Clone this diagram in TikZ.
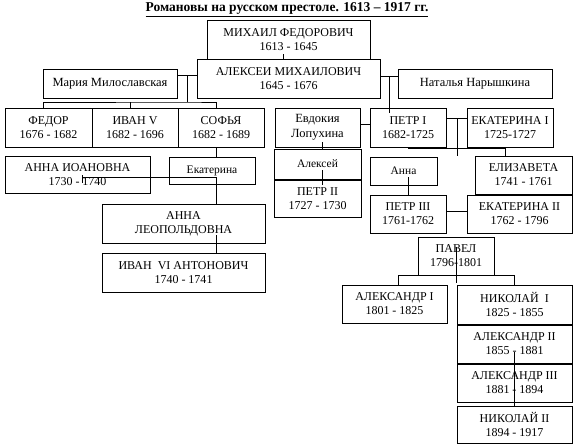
\documentclass[tikz,border=0pt]{standalone}
\usepackage{fontspec}
\setmainfont{Liberation Serif}
\tikzset{
  box/.style={draw, line width=1pt, rectangle, inner sep=0pt, align=center, font=\fontsize{12}{14}\selectfont},
  midbox/.style={box, font=\fontsize{12.5}{15}\selectfont},
  smallbox/.style={box, font=\fontsize{11.5}{13}\selectfont},
  link/.style={line width=1pt},
}
\begin{document}
\begin{tikzpicture}[x=1pt,y=-1pt]
\fill[white] (0,0) rectangle (575,447);
\path[use as bounding box] (0,0) rectangle (575,447);

\node[font=\fontsize{13.5}{15}\selectfont\bfseries] (title) at (287,9.5) {\underline{Романовы на русском престоле. 1613 – 1917 гг.}};

% boxes
\node[box, minimum width=163pt, minimum height=39pt] (mikhail) at (288.5,39.5) {МИХАИЛ ФЕДОРОВИЧ\\1613 - 1645};
\node[box, minimum width=183pt, minimum height=39pt] (alexei) at (288.5,78.5) {АЛЕКСЕИ МИХАИЛОВИЧ\\1645 - 1676};
\node[midbox, minimum width=134pt, minimum height=29pt] (maria) at (110,83.5) {Мария Милославская};
\node[midbox, minimum width=154pt, minimum height=29pt] (natalia) at (475,83.5) {Наталья Нарышкина};
\node[box, minimum width=87pt, minimum height=39pt] (fedor) at (48.5,127.5) {ФЕДОР\\1676 - 1682};
\node[box, minimum width=86pt, minimum height=39pt] (ivan5) at (135,127.5) {ИВАН V\\1682 - 1696};
\node[box, minimum width=86pt, minimum height=39pt] (sofia) at (221,127.5) {СОФЬЯ\\1682 - 1689};
\node[box, minimum width=145pt, minimum height=37pt] (annai) at (77.5,174.5) {АННА ИОАНОВНА\\1730 - 1740};
\node[smallbox, minimum width=86pt, minimum height=27pt] (ekat) at (212,170.5) {Екатерина};
\node[box, minimum width=163pt, minimum height=39pt] (annal) at (183.5,223.5) {АННА\\ЛЕОПОЛЬДОВНА};
\node[box, minimum width=163pt, minimum height=39pt] (ivan6) at (183.5,272.5) {ИВАН~ VI АНТОНОВИЧ\\1740 - 1741};
\node[midbox, minimum width=85pt, minimum height=39pt] (evdokia) at (317.5,127.5) {Евдокия\\Лопухина};
\node[box, minimum width=76pt, minimum height=39pt] (petr1) at (408,127.5) {ПЕТР I\\1682-1725};
\node[box, minimum width=86pt, minimum height=39pt] (ekat1) at (510,127.5) {ЕКАТЕРИНА I\\1725-1727};
\node[smallbox, minimum width=87pt, minimum height=30pt] (aleksei) at (317.5,164) {Алексей};
\node[box, minimum width=87pt, minimum height=37pt] (petr2) at (317.5,198.5) {ПЕТР II\\1727 - 1730};
\node[smallbox, minimum width=67pt, minimum height=28pt] (anna) at (403.5,171) {Анна};
\node[box, minimum width=97pt, minimum height=38pt] (eliz) at (523.5,175) {ЕЛИЗАВЕТА\\1741 - 1761};
\node[box, minimum width=76pt, minimum height=38pt] (petr3) at (408,214) {ПЕТР III\\1761-1762};
\node[box, minimum width=105pt, minimum height=38pt] (ekat2) at (519.5,214) {ЕКАТЕРИНА II\\1762 - 1796};
\node[box, minimum width=76pt, minimum height=38pt] (pavel) at (456,256) {ПАВЕЛ\\1796-1801};
\node[box, minimum width=105pt, minimum height=38pt] (alex1) at (394.5,304) {АЛЕКСАНДР I\\1801 - 1825};
\node[box, minimum width=115pt, minimum height=39pt] (nik1) at (514.5,304.5) {НИКОЛАЙ~ I\\1825 - 1855};
\node[box, minimum width=115pt, minimum height=38pt] (alex2) at (514.5,344) {АЛЕКСАНДР II\\1855 - 1881};
\node[box, minimum width=115pt, minimum height=38pt] (alex3) at (514.5,383) {АЛЕКСАНДР III\\1881 - 1894};
\node[box, minimum width=115pt, minimum height=37pt] (nik2) at (514.5,424.5) {НИКОЛАЙ II\\1894 - 1917};

% junction coordinates
\coordinate (jm) at (187,75);
\coordinate (jc) at (187,102);
\coordinate (jn) at (389,76);
\coordinate (jn2) at (389,113);
\coordinate (ja) at (216,177);
\coordinate (jl) at (82,177);
\coordinate (jv) at (216,235);
\coordinate (je) at (365,124);
\coordinate (jd) at (322,142);
\coordinate (jk) at (322,170);
\coordinate (jp) at (457,118);
\coordinate (jq) at (408,148);
\coordinate (js) at (456,211);
\coordinate (jt) at (456,275);

% connectors
\draw[link] ([xshift=-5.5pt]mikhail.south) -- ++(0,-6);
\draw[link] (maria.east |- jm) -- (alexei.west |- jm);
\draw[link] (jm) -- (jc);
\draw[link] ([xshift=-5.5pt]fedor.north) |- (jc) -| ([xshift=-5pt]sofia.north);
\draw[link] ([xshift=-5pt]ivan5.north) -- ++(0,-6);
\draw[link] (alexei.east |- jn) -- (natalia.west |- jn);
\draw[link] (jn) -- (jn2);
\draw[link] ([xshift=-5pt]sofia.south) -- ([xshift=4pt]ekat.north);
\draw[link] ([yshift=2pt]jl) -- ([yshift=-6pt]jl);
\draw[link] (jl) -- (ja) -- (ja |- annal.north);
\draw[link] (jv) -- (jv |- ivan6.north);
\draw[link] (evdokia.east |- je) -- (petr1.west |- je);
\draw[link] (jd) -- (jd |- aleksei.north);
\draw[link] (jk) -- ([yshift=-15pt]jk);
\draw[link] (petr1.east |- jp) -- (ekat1.west |- jp);
\draw[link] (jp) -- (jp |- eliz.north);
\draw[link] (jq) -| ([xshift=-18.5pt]eliz.north);
\draw[link] (petr3.north) -- ++(0,-18);
\draw[link] (petr3.east |- js) -- (ekat2.west |- js);
\draw[link] ([yshift=9pt]pavel.center) -- ([yshift=-27pt]pavel.center);
\draw[link] ([xshift=3.5pt]alex1.north) |- (jt) -| ([xshift=-0.5pt]nik1.north);
\draw[link] ([yshift=-8pt]alex2.center) -- (nik2.north);
\end{tikzpicture}
\end{document}
